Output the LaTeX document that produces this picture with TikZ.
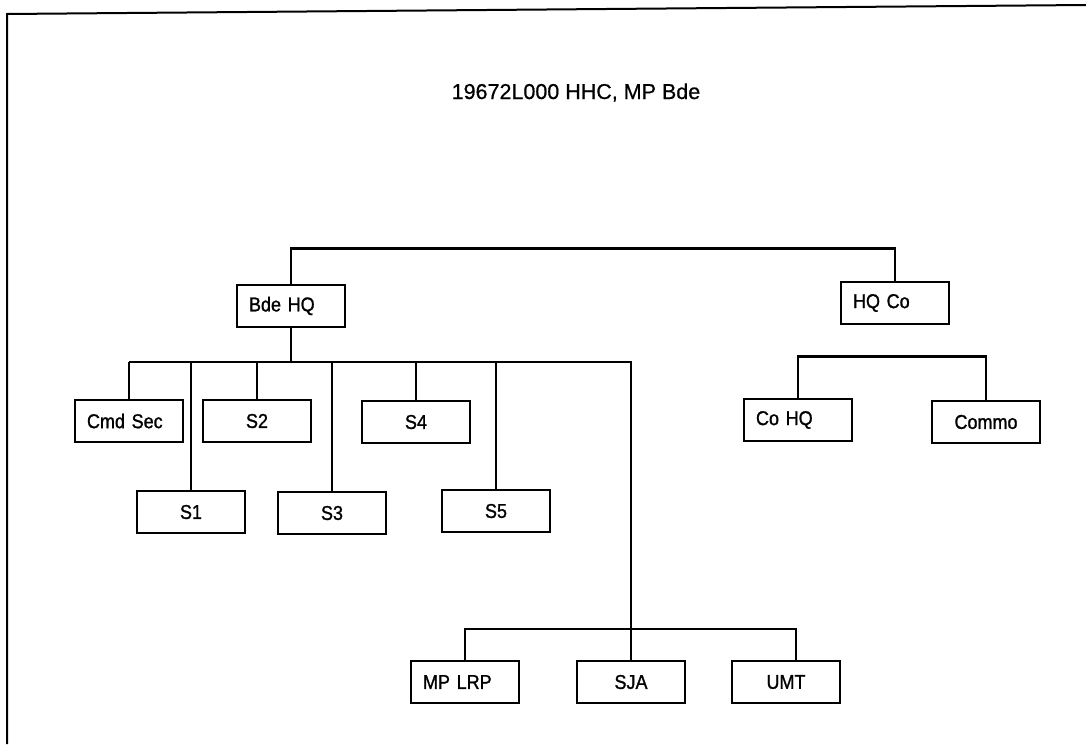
\documentclass[tikz,border=0pt]{standalone}
\usepackage{fontspec}
\setmainfont{Liberation Sans}
\newfontfamily\boxfont{Liberation Sans}[FakeBold=1.2, FakeStretch=0.9]
\newfontfamily\titlefont{Liberation Sans}[FakeBold=0.6]
\begin{document}
\begin{tikzpicture}[
    x=1pt, y=-1pt,
    unit/.style={draw, line width=2.8pt, minimum height=42pt, text width=84pt,
      inner xsep=12pt, inner ysep=0pt, align=center, font=\boxfont\fontsize{20}{22}\selectfont},
    unitl/.style={unit, align=left},
    link/.style={line width=2.7pt},
    ]
    \useasboundingbox (0,0) rectangle (1086,744);
    \draw[line width=2pt] (7,744) -- (7,14) -- (1086,5);
    \node[anchor=base, font=\titlefont\fontsize{21.5}{24}\selectfont] (title) at (576,99) {19672L000 HHC, MP Bde};
    % top level
    \node[unitl] (bdehq) at (291,306) {Bde HQ};
    \node[unitl] (hqco) at (895,303) {HQ Co};
    \draw[link] (bdehq.north) -- ++(0,-35) -| (hqco.north);
    % brigade staff
    \node[unitl] (cmdsec) at (129,421) {Cmd Sec};
    \node[unit] (s2) at (257,421) {S2};
    \node[unit] (s4) at (416,422) {S4};
    \node[unit] (s1) at (191,512) {S1};
    \node[unit] (s3) at (332,513) {S3};
    \node[unit] (s5) at (496,511) {S5};
    \coordinate (bus) at (291,362);
    \draw[link] (bdehq.south) -- (bus);
    \foreach \n in {cmdsec,s1,s2,s3,s4,s5}
      \draw[link] (\n.north |- bus) -- (\n.north);
    % special staff
    \node[unitl] (mplrp) at (465,682) {MP LRP};
    \node[unit] (sja) at (631,682) {SJA};
    \node[unit] (umt) at (786,682) {UMT};
    \coordinate (lowbus) at (631,629);
    \draw[link] (cmdsec.north |- bus) -- (bus -| sja.north) -- (sja.north);
    \draw[link] (mplrp.north) |- ([xshift=10pt]umt.north |- lowbus) -- ([xshift=10pt]umt.north);
    % company
    \node[unitl] (cohq) at (798,420) {Co HQ};
    \node[unit] (commo) at (986,422) {Commo};
    \draw[link] (cohq.north) -- ++(0,-41) -| (commo.north);
\end{tikzpicture}
\end{document}
